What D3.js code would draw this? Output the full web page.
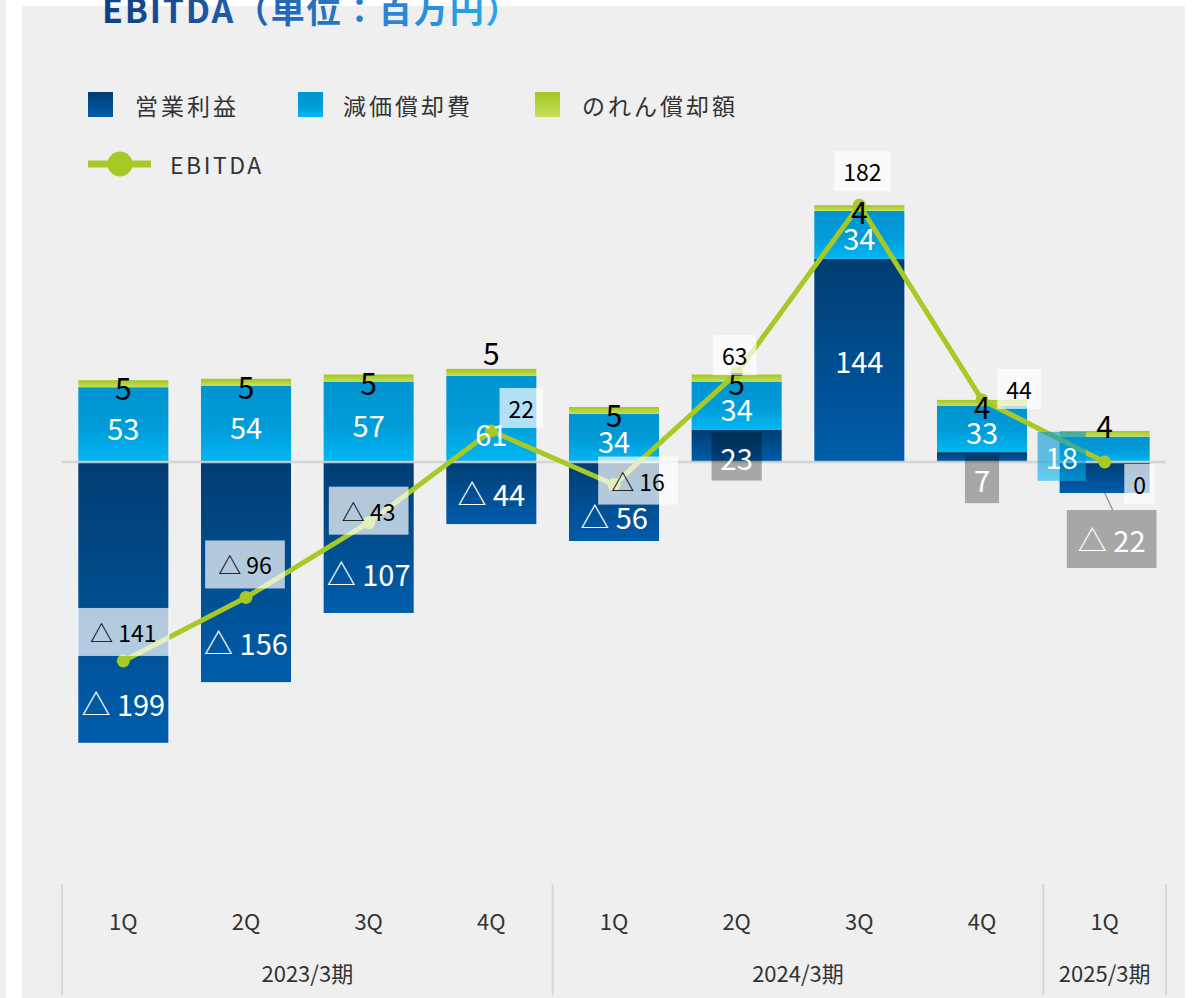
<!DOCTYPE html>
<html><head><meta charset="utf-8">
<script src="https://cdn.jsdelivr.net/npm/d3@7/dist/d3.min.js"></script>
<style>
html,body{margin:0;padding:0;background:#fff;}
svg{display:block;font-family:"Noto Sans CJK JP","Noto Sans",sans-serif;}
</style></head>
<body>
<svg id="chart" width="1192" height="998"></svg>
<script>
// ---- data ----
const quarters = ["1Q","2Q","3Q","4Q","1Q","2Q","3Q","4Q","1Q"];
const fiscalYears = ["2023/3期","2023/3期","2023/3期","2023/3期","2024/3期","2024/3期","2024/3期","2024/3期","2025/3期"];
const operatingProfit = [-199,-156,-107,-44,-56,23,144,7,-22];
const depreciation = [53,54,57,61,34,34,34,33,18];
const goodwill = [5,5,5,5,5,5,4,4,4];
const ebitda = [-141,-96,-43,22,-16,63,182,44,0];
const seriesNames = ["営業利益","減価償却費","のれん償却額"];
const lineName = "EBITDA";
const title = "EBITDA（単位：百万円）";

// ---- setup ----
const svg = d3.select("#chart");
const W = 1192, H = 998;
svg.append("rect").attr("x",0).attr("y",0).attr("width",6).attr("height",H).attr("fill","#efefef");
svg.append("rect").attr("x",22).attr("y",6).attr("width",1163).attr("height",H-6).attr("fill","#efefef");

const defs = svg.append("defs");
function vgrad(id, stops){
  const g = defs.append("linearGradient").attr("id",id).attr("x1",0).attr("y1",0).attr("x2",0).attr("y2",1);
  stops.forEach(s=>g.append("stop").attr("offset",s[0]).attr("stop-color",s[1]));
}
vgrad("gOp", [[0,"#013d72"],[1,"#005dab"]]);
vgrad("gDep",[[0,"#0094d0"],[0.55,"#009cd9"],[1,"#00b8f3"]]);
vgrad("gGw", [[0,"#a3c622"],[1,"#c6df58"]]);
const tg = defs.append("linearGradient").attr("id","gTitle").attr("gradientUnits","userSpaceOnUse")
  .attr("x1",100).attr("y1",0).attr("x2",500).attr("y2",0);
[[0,"#0b3f7e"],[0.4,"#2262b0"],[0.75,"#2a86d6"],[1,"#25a9e8"]].forEach(s=>tg.append("stop").attr("offset",s[0]).attr("stop-color",s[1]));
const fills = ["url(#gOp)","url(#gDep)","url(#gGw)"];

// title
svg.append("text").attr("x",102).attr("y",23).attr("font-size",34).attr("font-weight",700)
  .attr("letter-spacing",1.8).attr("fill","url(#gTitle)").text(title);

// legend
const legItems = [{x:88,tx:135},{x:298,tx:343},{x:535,tx:582}];
legItems.forEach((p,i)=>{
  svg.append("rect").attr("x",p.x).attr("y",92).attr("width",25).attr("height",25).attr("fill",fills[i]);
  svg.append("text").attr("x",p.tx).attr("y",105).attr("dominant-baseline","central")
    .attr("font-size",23).attr("letter-spacing",3).attr("fill","#333").text(seriesNames[i]);
});
svg.append("line").attr("x1",88).attr("x2",151).attr("y1",164).attr("y2",164).attr("stroke","#a6c925").attr("stroke-width",7);
svg.append("circle").attr("cx",120).attr("cy",164).attr("r",12.5).attr("fill","#a6c925");
svg.append("text").attr("x",170).attr("y",164).attr("dominant-baseline","central")
  .attr("font-size",23).attr("letter-spacing",2.5).attr("fill","#333").text(lineName);

// scales
const ids = quarters.map((q,i)=>fiscalYears[i]+" "+q);
const x = d3.scaleBand().domain(ids).range([62,1166]).paddingInner(0.266).paddingOuter(0.133);
const y = d3.scaleLinear().domain([-200,200]).range([744.2,179.8]);
const bw = x.bandwidth();
const cx = i => x(ids[i]) + bw/2;

const rows = ids.map((id,i)=>({id, op:operatingProfit[i], dep:depreciation[i], gw:goodwill[i]}));
const keys = ["op","dep","gw"];
const stacked = d3.stack().keys(keys).offset(d3.stackOffsetDiverging)(rows);

// bars
stacked.forEach((layer,k)=>{
  svg.append("g").selectAll("rect").data(layer).join("rect")
    .attr("x",d=>x(d.data.id)).attr("width",bw)
    .attr("y",d=>y(Math.max(d[0],d[1]))).attr("height",d=>Math.abs(y(d[0])-y(d[1])))
    .attr("fill",fills[k]);
});

// zero line
svg.append("line").attr("x1",62).attr("x2",1166).attr("y1",y(0)).attr("y2",y(0))
  .attr("stroke","#d2d2d2").attr("stroke-width",2.5).attr("stroke-opacity",0.9);

// x axis groups
const groups = [];
fiscalYears.forEach((f,i)=>{ if(!groups.length||groups[groups.length-1].name!==f) groups.push({name:f,start:i,end:i}); else groups[groups.length-1].end=i; });
const step = x.step();
const x0 = 62;
const bounds = [x0].concat(groups.map(g=>x0+step*(g.end+1)));
bounds.forEach(b=>svg.append("line").attr("x1",b).attr("x2",b).attr("y1",884).attr("y2",995).attr("stroke","#d6d6d6").attr("stroke-width",2));
svg.append("g").selectAll("text").data(ids).join("text")
  .attr("x",(d,i)=>cx(i)).attr("y",920).attr("text-anchor","middle").attr("dominant-baseline","central")
  .attr("font-size",22).attr("fill","#333").text((d,i)=>quarters[i]);
groups.forEach(g=>{
  svg.append("text").attr("x",(x0+step*g.start + x0+step*(g.end+1))/2).attr("y",972)
    .attr("text-anchor","middle").attr("dominant-baseline","central").attr("font-size",22).attr("fill","#333").text(g.name);
});

// EBITDA line
const line = d3.line().x((d,i)=>cx(i)).y(d=>y(d));
svg.append("path").datum(ebitda).attr("d",line).attr("fill","none").attr("stroke","#a6c925").attr("stroke-width",5).attr("stroke-linejoin","round");
svg.append("g").selectAll("circle").data(ebitda).join("circle")
  .attr("cx",(d,i)=>cx(i)).attr("cy",d=>y(d)).attr("r",6.5).attr("fill","#a6c925");

const fmt = v => v<0 ? "△ "+Math.abs(v) : String(v);
const labels = svg.append("g");
function boxLabel(cxp, cyp, txt, opt){
  const g = labels.append("g");
  const r = g.append("rect");
  const t = g.append("text").attr("x",cxp).attr("y",cyp).attr("text-anchor","middle").attr("dominant-baseline","central")
    .attr("font-size",opt.size).attr("fill",opt.color).text(txt);
  const w = t.node().getComputedTextLength() + opt.padX*2;
  r.attr("x",cxp-w/2).attr("y",cyp-opt.h/2).attr("width",w).attr("height",opt.h)
    .attr("fill",opt.fill).attr("fill-opacity",opt.op);
  return g;
}
function plain(cxp, cyp, txt, size, color){
  labels.append("text").attr("x",cxp).attr("y",cyp).attr("text-anchor","middle").attr("dominant-baseline","central")
    .attr("font-size",size).attr("fill",color).text(txt);
}

// operating profit labels
const opNudge = {4:14};
rows.forEach((r,i)=>{
  const v = r.op, y0 = y(0), y1 = y(v), h = Math.abs(y1-y0);
  if(h >= 40){
    const cyp = v<0 ? Math.max((y0+y1)/2, y1-40) : (y0+y1)/2;
    plain(cx(i), cyp + (opNudge[i]||0), fmt(v), 29, "#fff");
  } else if(v>0){
    boxLabel(cx(i), y1+27, fmt(v), {size:29,color:"#fff",padX:9,h:48,fill:"#000",op:0.3});
  } else {
    const top = y1+17;
    labels.append("line").attr("x1",cx(i)).attr("y1",y1).attr("x2",cx(i)+8).attr("y2",top).attr("stroke","#999").attr("stroke-width",1.5);
    boxLabel(cx(i)+7, top+29, fmt(v), {size:29,color:"#fff",padX:11,h:58,fill:"#000",op:0.3});
  }
});
// depreciation labels
stacked[1].forEach((d,i)=>{
  const ya = y(d[1]), yb = y(d[0]), h = yb-ya;
  if(h >= 30){
    const shift = (i===3) ? 14 : 2;
    plain(cx(i), (ya+yb)/2+shift, String(depreciation[i]), 29, "#fff");
  } else {
    boxLabel(cx(i)-43, (ya+yb)/2+7, String(depreciation[i]), {size:29,color:"#fff",padX:8,h:49,fill:"url(#gDep)",op:0.6});
  }
});
// goodwill labels
const gwNudge = {3:-24, 8:-12};
stacked[2].forEach((d,i)=>{
  plain(cx(i), y(d[0]) + (gwNudge[i]||0), String(goodwill[i]), 30, "#000");
});
// EBITDA labels
const ebOff = [[0,-29],[-1,-33],[0,-12],[30,-23],[24,-4],[-2,-18],[3,-34],[37,-11],[35,22]];
ebitda.forEach((v,i)=>{
  const neg = v<0;
  boxLabel(cx(i)+ebOff[i][0], y(v)+ebOff[i][1], fmt(v), {size:23,color:"#000",padX:neg?13:9,h:neg?48:40,fill:"#fff",op:0.7});
});
</script>
</body></html>
